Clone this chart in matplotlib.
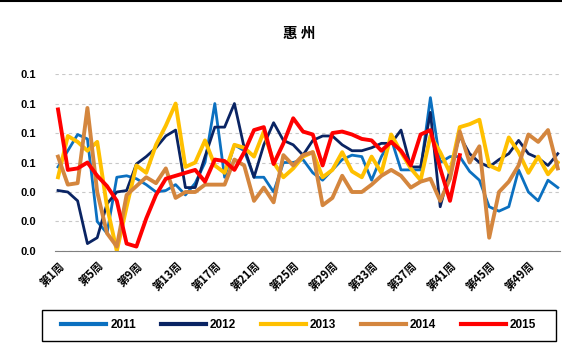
import matplotlib.pyplot as plt
import numpy as np

plt.rcParams['font.family'] = ['Liberation Sans', 'Noto Sans CJK SC', 'DejaVu Sans']

semanas = ['第%d周' % (i + 1) for i in range(52)]

v2011 = [0.057, 0.068, 0.079, 0.076, 0.020, 0.012, 0.050, 0.051, 0.049, 0.045,
         0.040, 0.041, 0.045, 0.038, 0.046, 0.060, 0.100, 0.050, 0.072, 0.068,
         0.050, 0.050, 0.040, 0.060, 0.060, 0.062, 0.053, 0.048, 0.055, 0.062,
         0.065, 0.064, 0.048, 0.064, 0.076, 0.055, 0.055, 0.055, 0.104, 0.060,
         0.064, 0.064, 0.054, 0.048, 0.030, 0.027, 0.030, 0.055, 0.040, 0.034,
         0.048, 0.043]
v2012 = [0.041, 0.040, 0.034, 0.005, 0.009, 0.032, 0.040, 0.041, 0.059, 0.064,
         0.070, 0.078, 0.082, 0.043, 0.043, 0.064, 0.084, 0.084, 0.100, 0.070,
         0.050, 0.072, 0.087, 0.075, 0.072, 0.065, 0.075, 0.078, 0.078, 0.072,
         0.068, 0.068, 0.070, 0.073, 0.073, 0.082, 0.057, 0.057, 0.094, 0.030,
         0.055, 0.078, 0.066, 0.060, 0.057, 0.062, 0.066, 0.075, 0.066, 0.063,
         0.058, 0.066]
v2013 = [0.050, 0.078, 0.074, 0.068, 0.074, 0.030, 0.000, 0.030, 0.058, 0.053,
         0.072, 0.085, 0.100, 0.057, 0.060, 0.075, 0.058, 0.053, 0.072, 0.070,
         0.064, 0.081, 0.060, 0.050, 0.056, 0.064, 0.067, 0.050, 0.055, 0.067,
         0.054, 0.050, 0.064, 0.053, 0.079, 0.067, 0.056, 0.048, 0.078, 0.067,
         0.053, 0.084, 0.086, 0.089, 0.058, 0.055, 0.077, 0.067, 0.053, 0.064,
         0.052, 0.060]
v2014 = [0.064, 0.045, 0.046, 0.097, 0.040, 0.012, 0.003, 0.038, 0.044, 0.050,
         0.046, 0.056, 0.036, 0.040, 0.040, 0.045, 0.045, 0.045, 0.062, 0.058,
         0.034, 0.043, 0.033, 0.065, 0.058, 0.065, 0.067, 0.031, 0.036, 0.051,
         0.040, 0.040, 0.045, 0.051, 0.055, 0.051, 0.043, 0.047, 0.049, 0.034,
         0.049, 0.081, 0.060, 0.071, 0.009, 0.040, 0.047, 0.058, 0.079, 0.074,
         0.082, 0.056]
v2015 = [0.096, 0.055, 0.056, 0.060, 0.051, 0.044, 0.034, 0.005, 0.003, 0.022,
         0.038, 0.049, 0.051, 0.053, 0.055, 0.047, 0.062, 0.061, 0.055, 0.067,
         0.082, 0.084, 0.059, 0.073, 0.090, 0.081, 0.079, 0.058, 0.080, 0.081,
         0.079, 0.076, 0.075, 0.068, 0.074, 0.068, 0.058, 0.079, 0.082, 0.056,
         0.034, 0.065]

series = [('2011', v2011, '#0B70C0', 2.0),
          ('2012', v2012, '#0A2463', 2.0),
          ('2013', v2013, '#FFC000', 2.8),
          ('2014', v2014, '#D4863E', 2.8),
          ('2015', v2015, '#FF0000', 2.8)]

fig = plt.figure(figsize=(5.62, 3.51), dpi=100)
ax = fig.add_axes([0.098, 0.285, 0.898, 0.504])

for nome, vals, cor, lw in series:
    ax.plot(np.arange(len(vals)), vals, color=cor, lw=lw, label=nome,
            solid_joinstyle='round')

ax.set_ylim(0, 0.12)
ax.set_xlim(-0.3, 51.2)
ax.set_yticks(np.arange(0, 0.121, 0.02))
ax.set_yticklabels(['%.1f' % v for v in np.arange(0, 0.121, 0.02)],
                   fontsize=8, fontweight='bold')
ax.set_xticks(range(0, 52, 4))
ax.set_xticklabels(semanas[::4], rotation=45, ha='right', rotation_mode='anchor',
                   fontsize=8, fontweight='bold',
                   family=['Noto Sans CJK SC', 'DejaVu Sans'])
ax.tick_params(axis='both', length=0, pad=6)
ax.tick_params(axis='y', pad=14)
ax.grid(axis='y', color='#C8C8C8', ls=(0, (3, 3)), lw=0.8)
ax.set_axisbelow(True)
for s in ['top', 'left', 'right']:
    ax.spines[s].set_visible(False)
ax.spines['bottom'].set_color('#808080')

fig.text(0.533, 0.905, '惠 州', ha='center', va='center', fontsize=10.5,
         fontweight='bold', family=['Noto Sans CJK SC', 'DejaVu Sans'])

# linha de cima da moldura
fig.add_artist(plt.Line2D([0, 1], [0.997, 0.997], color='black', lw=1.5))

# caixa da legenda desenhada à parte (mais larga que a do matplotlib)
fig.add_artist(plt.Rectangle((0.0747, 0.0285), 0.9146, 0.0883, fill=False,
                             edgecolor='black', lw=1.0, transform=fig.transFigure))

leg = fig.legend(loc='center', bbox_to_anchor=(0.532, 0.073), ncol=5,
                 frameon=False, prop={'size': 8.5, 'weight': 'bold'},
                 handlelength=3.8, columnspacing=2.1, handletextpad=0.35)
for l in leg.get_lines():
    l.set_linewidth(3)

plt.savefig('out.png', dpi=100)
